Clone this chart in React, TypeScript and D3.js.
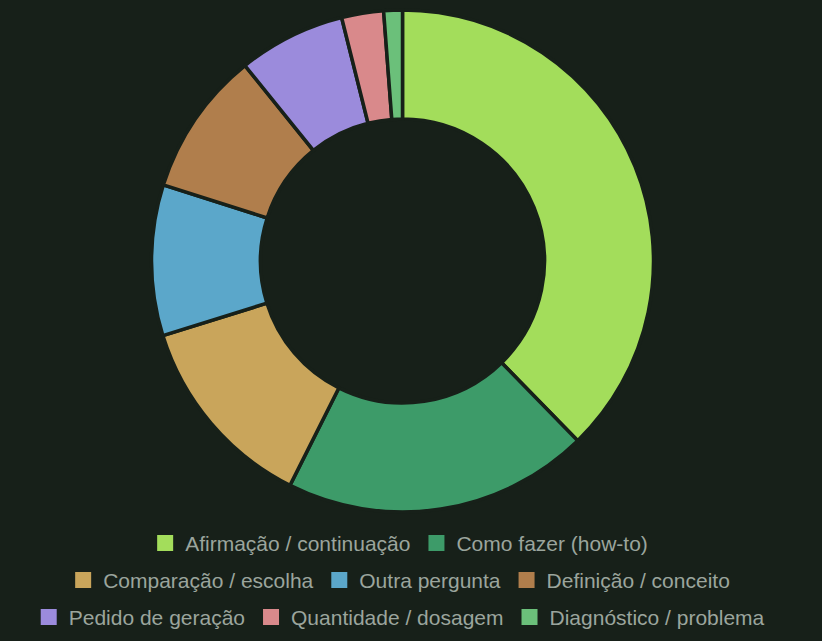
import React, { useEffect, useRef } from "react";
import * as d3 from "d3";

const categories = [
  "Afirmação / continuação",
  "Como fazer (how-to)",
  "Comparação / escolha",
  "Outra pergunta",
  "Definição / conceito",
  "Pedido de geração",
  "Quantidade / dosagem",
  "Diagnóstico / problema",
];
const values = [37.7, 19.7, 12.8, 9.7, 9.3, 6.9, 2.7, 1.2];
const colors = ["#a3dd5b", "#3d9b69", "#c9a55b", "#5ba7ca", "#b07e4c", "#9b8bdc", "#d9898b", "#6bc07a"];
const legendRows = [[0, 1], [2, 3, 4], [5, 6, 7]];

const W = 822, H = 641;
const BG = "#172019";

export default function App() {
  const ref = useRef<SVGSVGElement>(null);
  useEffect(() => {
    const svg = d3.select(ref.current!);
    svg.selectAll("*").remove();
    svg.append("rect").attr("width", W).attr("height", H).attr("fill", BG);
    const cx = 402.5, cy = 261, R = 251, r = 142;
    const pie = d3.pie<number>().sort(null).value((d) => d);
    const arc = d3.arc<d3.PieArcDatum<number>>().innerRadius(r).outerRadius(R);
    const g = svg.append("g").attr("transform", `translate(${cx},${cy})`);
    g.selectAll("path")
      .data(pie(values))
      .join("path")
      .attr("d", arc as any)
      .attr("fill", (_, i) => colors[i])
      .attr("stroke", BG)
      .attr("stroke-width", 3.5)
      .attr("stroke-linejoin", "miter");

    const lg = svg.append("g");
    const rowY = [543, 580, 617];
    const sq = 16, gapT = 12, gapI = 18;
    legendRows.forEach((row, ri) => {
      const rg = lg.append("g");
      let x = 0;
      row.forEach((i) => {
        rg.append("rect")
          .attr("x", x).attr("y", rowY[ri] - sq / 2)
          .attr("width", sq).attr("height", sq)
          .attr("fill", colors[i]);
        const t = rg.append("text")
          .attr("x", x + sq + gapT).attr("y", rowY[ri])
          .attr("dominant-baseline", "central")
          .attr("fill", "#9ba59d")
          .attr("font-family", "Liberation Sans, Arial, sans-serif")
          .attr("font-size", 21)
          .text(categories[i]);
        const w = (t.node() as SVGTextElement).getComputedTextLength();
        x += sq + gapT + w + gapI;
      });
      const total = x - gapI;
      rg.attr("transform", `translate(${cx - total / 2},0)`);
    });
  }, []);
  return (
    <svg ref={ref} width={W} height={H} style={{ position: "absolute", left: 0, top: 0, display: "block" }} />
  );
}
